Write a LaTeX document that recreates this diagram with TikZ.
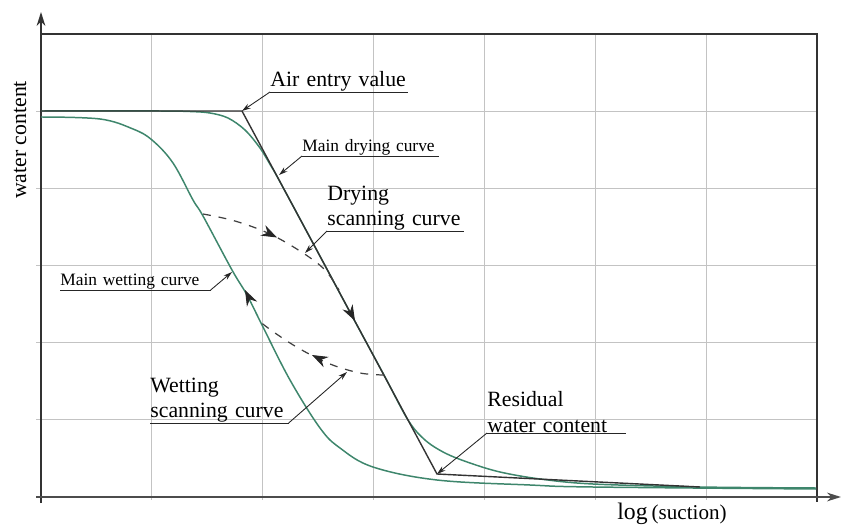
\documentclass[tikz,border=0pt]{standalone}
\usepackage{fontspec}
\setmainfont{Liberation Serif}
\usetikzlibrary{arrows.meta}
\definecolor{curvegreen}{RGB}{62,134,108}
\definecolor{gridgray}{RGB}{195,195,195}
\def\bigfont{\fontsize{12.4}{14.5}\selectfont}
\def\smallfont{\fontsize{9.9}{12}\selectfont}
\tikzset{
  gridline/.style={gridgray, line width=0.6pt},
  curve/.style={curvegreen, line width=0.85pt},
  tangent/.style={black!80, line width=0.8pt},
  scan/.style={black!75, line width=0.7pt, dash pattern=on 4.5pt off 4.5pt},
  flow/.style={black!85, line width=0.5pt, -{Stealth[length=9pt,width=6.5pt,inset=3pt]}},
  leader/.style={black!85, line width=0.5pt, -{Stealth[length=5pt,width=3pt]}},
  lbl/.style={anchor=south west, inner xsep=0pt, inner ysep=0pt, align=left, text width=#1, font=\bigfont},
  smalllbl/.style={lbl=#1, font=\smallfont}
}

\begin{document}
\begin{tikzpicture}[x=0.02cm, y=-0.02cm]
			%%%%% START %%%%%
			\useasboundingbox (0,0) rectangle (842,527);
			
			% grid and frame
			\foreach \gx in {151.9,262.7,373.6,484.4,595.3,706.1}
				\draw[gridline] (\gx,34) -- (\gx,500);
			\foreach \gy in {111.2,188.3,265.5,342.7,419.8}
				\draw[gridline] (36,\gy) -- (817,\gy);
			\draw[black!80, line width=0.7pt] (41,34) -- (817,34) -- (817,502);
			
			% axes
			\draw[black!80, line width=0.8pt, -{Stealth[length=8pt,width=5pt]}] (41,503) -- (41,12);
			\draw[black!70, line width=1pt, -{Stealth[length=8pt,width=5pt]}] (36,497) -- (841,497);
			
			\coordinate (aev) at (242,111);
			\coordinate (rwc) at (437,474);
			
			% main curves
			\draw[curve] plot[smooth, tension=0.55] coordinates {(41,111) (160,111) (190,111.5) (210,113) (228,118) (245,130) (260,148) (271,166) (279,180) (314,245) (351.5,315) (384,375) (408,420) (425,440) (445,453) (470,463) (500,472) (540,479) (593,484) (700,487) (816,488)};
			\draw[curve] plot[smooth, tension=0.6] coordinates {(41,117) (100,119) (133,129) (152,140) (173,163) (193,200) (203,216) (232,270) (247,295) (263,327) (290,380) (320,428) (340,448) (373,467) (437,480) (530,485) (593,487) (816,489)};
			\draw[tangent] (41,111) -- (aev) -- (rwc) -- (700,487);
			
			% scanning curves
			\draw[scan] plot[smooth, tension=0.6] coordinates {(203,214) (235,221) (270,234) (303,253) (325,270) (339,290)};
			\draw[scan] plot[smooth, tension=0.6] coordinates {(384,375) (360,373) (330,364) (300,349) (275,333) (259,321)};
			
			% direction arrows
			\draw[flow] (353.5,318) -- (355,320.8);
			\draw[flow] (248,296) -- (245,290);
			\draw[flow] (272,235) -- (277,237.5);
			\draw[flow] (318,358) -- (312,355);
			
			% labels
			\coordinate (mdc) at (279,175);
			\coordinate (dsc) at (305,253);
			\coordinate (mwc) at (232,272);
			\coordinate (wsc) at (347,372);
			
			\node[lbl=2.74cm] (airentry) at (270,92) {Air entry value};
			\draw[black!85, line width=0.5pt] (airentry.south west) -- (airentry.south east);
			\draw[leader] (airentry.south west) -- (aev);
			
			\node[smalllbl=2.72cm] (maindry) at (302,156) {Main drying curve};
			\draw[black!85, line width=0.5pt] (maindry.south west) -- (maindry.south east);
			\draw[leader] (maindry.south west) -- (mdc);
			
			\node[lbl=2.72cm] (dryscan) at (327,231) {Drying\\scanning curve};
			\draw[black!85, line width=0.5pt] (dryscan.south west) -- (dryscan.south east);
			\draw[leader] (dryscan.south west) -- (dsc);
			
			\node[smalllbl=3.0cm] (mainwet) at (60,290) {Main wetting curve};
			\draw[black!85, line width=0.5pt] (mainwet.south west) -- (mainwet.south east);
			\draw[leader] (mainwet.south east) -- (mwc);
			
			\node[lbl=2.76cm] (wetscan) at (150,423) {Wetting\\scanning curve};
			\draw[black!85, line width=0.5pt] (wetscan.south west) -- (wetscan.south east);
			\draw[leader] (wetscan.south east) -- (wsc);
			
			\node[lbl=2.76cm] (residual) at (487,433) {Residual\\water content};
			\draw[black!85, line width=0.5pt] (residual.south west) -- (residual.south east);
			\draw[leader] (residual.south west) -- (rwc);
			
			% axis titles
			\node[rotate=90, font=\bigfont] (ylabel) at (20,140) {water content};
			\node[inner sep=0pt] (xlabel) at (672,514) {\fontsize{13.5}{15}\selectfont log\,\fontsize{12}{14}\selectfont(suction)};
			
			%%%%% END %%%%%
\end{tikzpicture}
\end{document}
